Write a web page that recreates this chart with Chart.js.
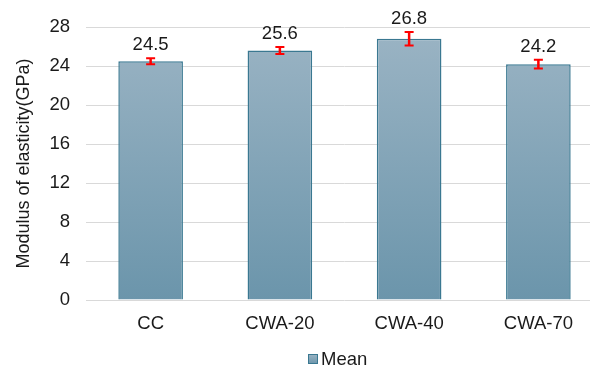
<!DOCTYPE html>
<html>
<head>
<meta charset="utf-8">
<script src="https://cdn.jsdelivr.net/npm/chart.js@4.4.1/dist/chart.umd.min.js"></script>
<style>
  html, body { margin: 0; padding: 0; background: #fff; overflow: hidden; }
  #wrap { width: 603px; height: 367px; }
</style>
</head>
<body>
<div id="wrap"><canvas id="chart" width="603" height="367"></canvas></div>
<script>
// data
const categories = ["CC", "CWA-20", "CWA-40", "CWA-70"];
const meanValues = [24.5, 25.6, 26.8, 24.2];
const errValues = [0.3, 0.35, 0.7, 0.45];
const yTicks = [0, 4, 8, 12, 16, 20, 24, 28];
const seriesName = "Mean";

const FONT = "'Liberation Sans', Arial, sans-serif";

function barGradient(ctx, area) {
    const g = ctx.createLinearGradient(0, area.top, 0, area.bottom);
    g.addColorStop(0, "#9bb4c4");
    g.addColorStop(1, "#6b95ab");
    return g;
}

// error bars + value labels
const errorBarPlugin = {
    id: "errorBars",
    afterDatasetsDraw(chart) {
        const ctx = chart.ctx;
        const y = chart.scales.y;
        const meta = chart.getDatasetMeta(0);
        ctx.save();
        meta.data.forEach((bar, i) => {
            const x = bar.x;
            const top = y.getPixelForValue(meanValues[i] + errValues[i]);
            const bot = y.getPixelForValue(meanValues[i] - errValues[i]);
            ctx.strokeStyle = "#ff0000";
            ctx.lineWidth = 2.5;
            ctx.beginPath();
            ctx.moveTo(x, top); ctx.lineTo(x, bot);
            ctx.stroke();
            ctx.lineWidth = 2;
            ctx.beginPath();
            ctx.moveTo(x - 4.5, top); ctx.lineTo(x + 4.5, top);
            ctx.moveTo(x - 4.5, bot); ctx.lineTo(x + 4.5, bot);
            ctx.stroke();

            ctx.fillStyle = "#1a1a1a";
            ctx.font = "18.5px " + FONT;
            ctx.textAlign = "center";
            ctx.textBaseline = "bottom";
            ctx.fillText(meanValues[i].toFixed(1), x, top - 4);
        });
        ctx.restore();
    }
};

// legend under the plot
const legendPlugin = {
    id: "meanLegend",
    afterDraw(chart) {
        const ctx = chart.ctx;
        ctx.save();
        const g = ctx.createLinearGradient(0, 354, 0, 364);
        g.addColorStop(0, "#9bb4c4");
        g.addColorStop(1, "#6b95ab");
        ctx.fillStyle = g;
        ctx.fillRect(308.5, 354.5, 9, 9);
        ctx.strokeStyle = "#3a7891";
        ctx.lineWidth = 1;
        ctx.strokeRect(308.5, 354.5, 9, 9);
        ctx.fillStyle = "#1a1a1a";
        ctx.font = "18.5px " + FONT;
        ctx.textAlign = "left";
        ctx.textBaseline = "middle";
        ctx.fillText(seriesName, 321, 360);
        ctx.restore();
    }
};

const ctx = document.getElementById("chart").getContext("2d");
new Chart(ctx, {
    type: "bar",
    data: {
        labels: categories,
        datasets: [{
            label: seriesName,
            data: meanValues,
            backgroundColor: (c) => {
                const area = c.chart.chartArea;
                if (!area) return "#85a5b8";
                return barGradient(c.chart.ctx, area);
            },
            borderColor: "#3a7891",
            borderWidth: 1.5,
            barPercentage: 0.5,
            categoryPercentage: 1.0
        }]
    },
    options: {
        responsive: false,
        animation: false,
        devicePixelRatio: 1,
        layout: { padding: { top: 27, right: 0, left: 0, bottom: 0 } },
        plugins: {
            legend: { display: false },
            tooltip: { enabled: false }
        },
        scales: {
            x: {
                grid: { display: false, drawTicks: false },
                border: { display: false },
                ticks: {
                    color: "#1a1a1a",
                    font: { family: FONT, size: 18.5 },
                    padding: 13
                },
                afterFit: (s) => { s.height = 67; }
            },
            y: {
                min: 0,
                max: 28,
                afterBuildTicks: (s) => { s.ticks = yTicks.map(v => ({ value: v })); },
                grid: { color: "#d9d9d9", lineWidth: 1, drawTicks: false },
                border: { display: false },
                ticks: {
                    color: "#1a1a1a",
                    font: { family: FONT, size: 18.5 },
                    padding: 16
                },
                title: {
                    display: true,
                    text: "Modulus of elasticity(GPa)",
                    color: "#1a1a1a",
                    font: { family: FONT, size: 18 },
                    padding: { top: 13, bottom: 0 }
                },
                afterFit: (s) => { s.width = 86; }
            }
        }
    },
    plugins: [errorBarPlugin, legendPlugin]
});
</script>
</body>
</html>
